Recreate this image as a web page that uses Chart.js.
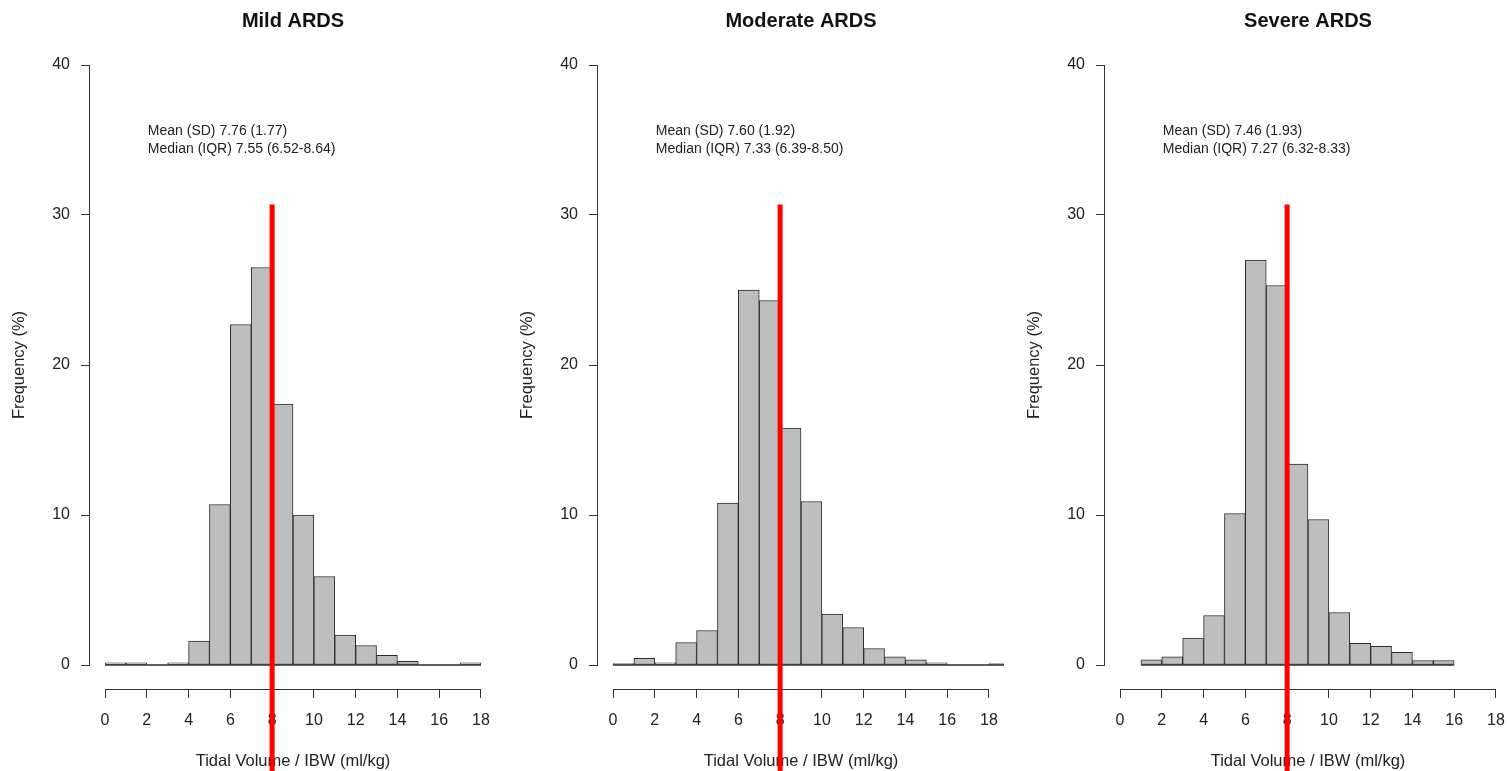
<!DOCTYPE html>
<html>
<head>
<meta charset="utf-8">
<script src="https://cdn.jsdelivr.net/npm/chart.js@4.4.1/dist/chart.umd.min.js"></script>
<style>
  html, body { margin: 0; padding: 0; background: #fff; overflow: hidden; width: 1508px; height: 771px; }
  .panel { position: absolute; top: 0; width: 507px; height: 771px; }
</style>
</head>
<body>
<div class="panel" style="left:0px"><canvas id="chart1" width="507" height="771"></canvas></div>
<div class="panel" style="left:508px"><canvas id="chart2" width="507" height="771"></canvas></div>
<div class="panel" style="left:1015px"><canvas id="chart3" width="507" height="771"></canvas></div>
<script>
// Datos (frecuencia en %, bins de ancho 1)
const binsLeve = [0, 1, 2, 3, 4, 5, 6, 7, 8, 9, 10, 11, 12, 13, 14, 15, 16, 17];
const valoresLeve = [0.15, 0.15, 0, 0.15, 1.6, 10.7, 22.7, 26.5, 17.4, 10.0, 5.9, 2.0, 1.3, 0.65, 0.25, 0, 0, 0.15];

const binsModerado = [0, 1, 2, 3, 4, 5, 6, 7, 8, 9, 10, 11, 12, 13, 14, 15, 16, 17, 18];
const valoresModerado = [0.1, 0.45, 0.15, 1.5, 2.3, 10.8, 25.0, 24.3, 15.8, 10.9, 3.4, 2.5, 1.1, 0.55, 0.35, 0.15, 0, 0, 0.1];

const binsSevero = [1, 2, 3, 4, 5, 6, 7, 8, 9, 10, 11, 12, 13, 14, 15];
const valoresSevero = [0.35, 0.55, 1.8, 3.3, 10.1, 27.0, 25.3, 13.4, 9.7, 3.5, 1.45, 1.25, 0.85, 0.3, 0.3];

const ticksX = [0, 2, 4, 6, 8, 10, 12, 14, 16, 18];
const ticksY = [0, 10, 20, 30, 40];

const titulos = ["Mild ARDS", "Moderate ARDS", "Severe ARDS"];
const textosMedia = ["Mean (SD) 7.76 (1.77)", "Mean (SD) 7.60 (1.92)", "Mean (SD) 7.46 (1.93)"];
const textosMediana = ["Median (IQR) 7.55 (6.52-8.64)", "Median (IQR) 7.33 (6.39-8.50)", "Median (IQR) 7.27 (6.32-8.33)"];

const lineaRoja = 8;
const fuente = "'Liberation Sans', Arial, sans-serif";

// Ejes al estilo R + textos + linea roja
var ejesR = {
    id: "ejesR",
    afterDraw: function (chart, args, opts) {
        var ctx = chart.ctx;
        var x = chart.scales.x;
        var y = chart.scales.y;
        var area = chart.chartArea;
        ctx.save();

        // lineas de los ejes (solo entre el primer y ultimo tick)
        ctx.strokeStyle = "#333";
        ctx.lineWidth = 1;
        ctx.beginPath();
        var yb = Math.round(area.bottom) + 0.5;
        ctx.moveTo(x.getPixelForValue(ticksX[0]), yb);
        ctx.lineTo(x.getPixelForValue(ticksX[ticksX.length - 1]), yb);
        var xl = Math.round(area.left) - 0.5;
        ctx.moveTo(xl, y.getPixelForValue(ticksY[0]));
        ctx.lineTo(xl, y.getPixelForValue(ticksY[ticksY.length - 1]));
        ctx.stroke();

        // media y mediana
        ctx.fillStyle = "#222";
        ctx.font = "14px " + fuente;
        ctx.textAlign = "left";
        ctx.textBaseline = "middle";
        ctx.fillText(opts.media, x.getPixelForValue(2.05), y.getPixelForValue(35.6));
        ctx.fillText(opts.mediana, x.getPixelForValue(2.05), y.getPixelForValue(34.4));

        // linea roja en 8 ml/kg
        ctx.strokeStyle = "#ff0000";
        ctx.lineWidth = 5;
        ctx.beginPath();
        ctx.moveTo(x.getPixelForValue(lineaRoja), y.getPixelForValue(30.7));
        ctx.lineTo(x.getPixelForValue(lineaRoja), chart.height);
        ctx.stroke();
        ctx.restore();
    }
};

function grafico(id, titulo, bins, valores, media, mediana) {
    var datos = bins.map(function (b, i) { return { x: b + 0.5, y: valores[i] }; });
    var base = [{ x: bins[0], y: 0 }, { x: bins[bins.length - 1] + 1, y: 0 }];

    new Chart(id, {
        type: "bar",
        data: {
            datasets: [{
                data: datos,
                backgroundColor: "#bebebe",
                borderColor: "#2b2b2b",
                borderWidth: 1,
                borderSkipped: false,
                barPercentage: 1,
                categoryPercentage: 1,
                order: 2
            }, {
                type: "line",
                data: base,
                borderColor: "#2b2b2b",
                borderWidth: 1.5,
                pointRadius: 0,
                order: 1
            }]
        },
        options: {
            responsive: false,
            animation: false,
            devicePixelRatio: 1,
            layout: { padding: { left: 0, right: 11, top: 0, bottom: 0 } },
            plugins: {
                legend: { display: false },
                tooltip: { enabled: false },
                title: {
                    display: true,
                    text: titulo,
                    fullSize: false,
                    color: "#111",
                    font: { family: fuente, size: 20, weight: "bold" },
                    padding: { top: 9, bottom: 8 }
                },
                ejesR: { media: media, mediana: mediana }
            },
            scales: {
                x: {
                    type: "linear",
                    min: -0.72,
                    max: 18.72,
                    offset: false,
                    afterBuildTicks: function (s) { s.ticks = ticksX.map(function (v) { return { value: v }; }); },
                    afterFit: function (s) { s.height = 82; },
                    grid: { offset: false, drawOnChartArea: false, tickLength: 9, color: "#333", lineWidth: 1 },
                    border: { display: false },
                    ticks: { padding: 13, color: "#222", autoSkip: false, maxRotation: 0, font: { family: fuente, size: 16 } },
                    title: {
                        display: true,
                        text: "Tidal Volume / IBW (ml/kg)",
                        color: "#222",
                        font: { family: fuente, size: 16.5 },
                        padding: { top: 0, bottom: 0 }
                    }
                },
                y: {
                    min: -1.6,
                    max: 41.6,
                    afterBuildTicks: function (s) { s.ticks = ticksY.map(function (v) { return { value: v }; }); },
                    afterFit: function (s) { s.width = 90; },
                    grid: { drawOnChartArea: false, tickLength: 9, color: "#333", lineWidth: 1 },
                    border: { display: false },
                    ticks: { padding: 11, color: "#222", font: { family: fuente, size: 16 } },
                    title: {
                        display: true,
                        text: "Frequency (%)",
                        color: "#222",
                        font: { family: fuente, size: 16.5 },
                        padding: { top: 10, bottom: 0 }
                    }
                }
            }
        },
        plugins: [ejesR]
    });
}

grafico("chart1", titulos[0], binsLeve, valoresLeve, textosMedia[0], textosMediana[0]);
grafico("chart2", titulos[1], binsModerado, valoresModerado, textosMedia[1], textosMediana[1]);
grafico("chart3", titulos[2], binsSevero, valoresSevero, textosMedia[2], textosMediana[2]);
</script>
</body>
</html>
